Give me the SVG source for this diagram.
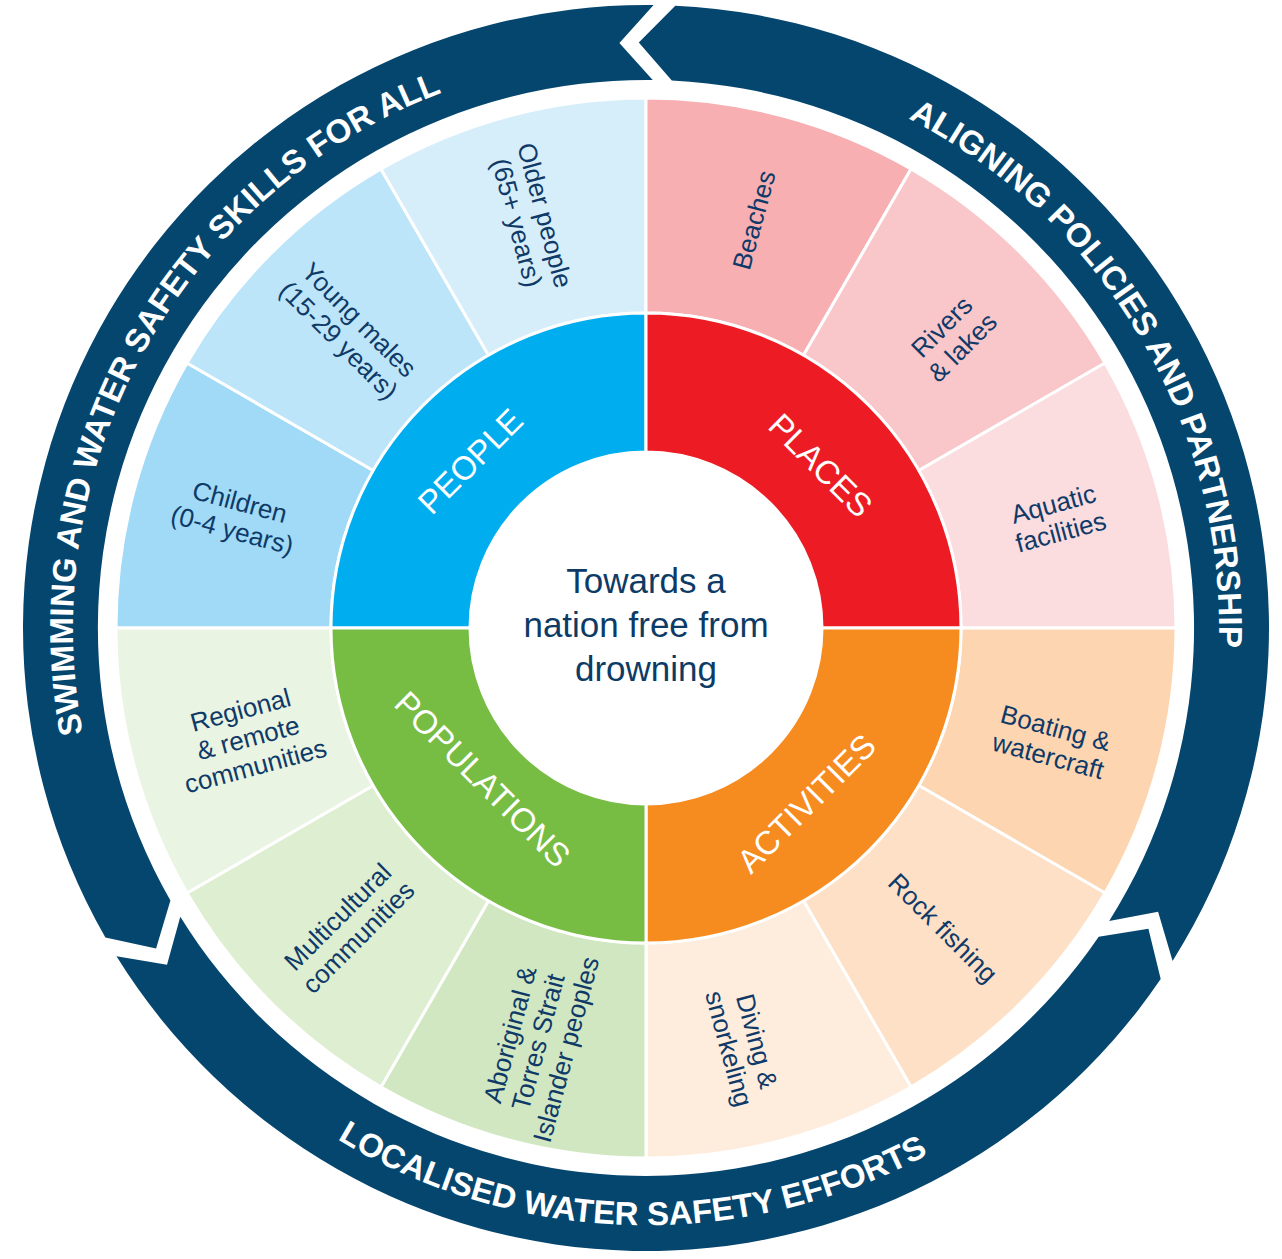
<svg xmlns="http://www.w3.org/2000/svg" xmlns:xlink="http://www.w3.org/1999/xlink" width="1282" height="1259" viewBox="0 0 1282 1259">
<style>
.seg{stroke:#fff;stroke-width:3}
.lbl{font-family:"Liberation Sans",Arial,sans-serif;font-size:26px;fill:#0f3a68;text-anchor:middle}
.mid{font-family:"Liberation Sans",Arial,sans-serif;font-size:33px;fill:#fff;text-anchor:middle}
.ring{fill:#05466e}
.rtxt{font-family:"Liberation Sans",Arial,sans-serif;font-size:33px;font-weight:bold;fill:#fff}
.ctr{font-family:"Liberation Sans",Arial,sans-serif;font-size:35px;fill:#0d3b66;text-anchor:middle}
</style>
<defs>
<path id="pSwim" d="M 323.5 1101.6 A 573 573 0 0 1 881.3 105.5"/>
<path id="pAlign" d="M 400.2 110.4 A 573 573 0 0 1 977.9 1095.1"/>
<path id="pLocal" d="M 50.1 665.0 A 597 597 0 0 0 1239.2 695.1"/>
</defs>
<rect width="1282" height="1259" fill="#fff"/>

<g id="connectors">
<path id="arrow-swimming" class="ring" d="M 105.4 937.6 A 623 623 0 0 1 653.6 5.0 L 619.4 43.1 L 652.7 80.0 A 548 548 0 0 0 170.4 900.4 L 156.1 948.6 Z"/>
<path id="arrow-aligning" class="ring" d="M 675.3 5.7 A 623 623 0 0 1 1172.6 960.9 L 1158.1 911.8 L 1109.2 920.9 A 548 548 0 0 0 671.8 80.6 L 638.8 42.5 Z"/>
<path id="arrow-localised" class="ring" d="M 1160.7 979.1 A 623 623 0 0 1 116.5 956.3 L 167.0 964.7 L 180.3 916.8 A 548 548 0 0 0 1098.7 936.8 L 1148.4 928.7 Z"/>
<text class="rtxt"><textPath xlink:href="#pSwim" href="#pSwim" startOffset="50%" text-anchor="middle">SWIMMING AND WATER SAFETY SKILLS FOR ALL</textPath></text>
<text class="rtxt"><textPath xlink:href="#pAlign" href="#pAlign" startOffset="50%" text-anchor="middle">ALIGNING POLICIES AND PARTNERSHIP</textPath></text>
<text class="rtxt"><textPath xlink:href="#pLocal" href="#pLocal" startOffset="50%" text-anchor="middle">LOCALISED WATER SAFETY EFFORTS</textPath></text>
</g>

<!-- outer segments -->
<g id="children">
<path class="seg" fill="#a0daf7" d="M 331 628 L 116 628 A 530 530 0 0 1 187.0 363 L 373.2 470.5 A 315 315 0 0 0 331 628 Z"/>
<g transform="translate(236,516) rotate(15)"><text class="lbl" y="-5.5">Children</text><text class="lbl" y="23.5">(0-4 years)</text></g>
</g>
<g id="young-males">
<path class="seg" fill="#bde5f9" d="M 373.2 470.5 L 187.0 363 A 530 530 0 0 1 381 169.0 L 488.5 355.2 A 315 315 0 0 0 373.2 470.5 Z"/>
<g transform="translate(349,330) rotate(45)"><text class="lbl" y="-5.5">Young males</text><text class="lbl" y="23.5">(15-29 years)</text></g>
</g>
<g id="older-people">
<path class="seg" fill="#d6eefa" d="M 488.5 355.2 L 381 169.0 A 530 530 0 0 1 646 98 L 646 313 A 315 315 0 0 0 488.5 355.2 Z"/>
<g transform="translate(531,219) rotate(75)"><text class="lbl" y="-5.5">Older people</text><text class="lbl" y="23.5">(65+ years)</text></g>
</g>
<g id="beaches">
<path class="seg" fill="#f7afb2" d="M 646 313 L 646 98 A 530 530 0 0 1 911 169.0 L 803.5 355.2 A 315 315 0 0 0 646 313 Z"/>
<g transform="translate(754,220) rotate(-75)"><text class="lbl" y="9">Beaches</text></g>
</g>
<g id="rivers-lakes">
<path class="seg" fill="#f9c6c9" d="M 803.5 355.2 L 911 169.0 A 530 530 0 0 1 1105.0 363 L 918.8 470.5 A 315 315 0 0 0 803.5 355.2 Z"/>
<g transform="translate(952,337) rotate(-45)"><text class="lbl" y="-5.5">Rivers</text><text class="lbl" y="23.5">&amp; lakes</text></g>
</g>
<g id="aquatic-facilities">
<path class="seg" fill="#fbdcdf" d="M 918.8 470.5 L 1105.0 363 A 530 530 0 0 1 1176 628 L 961 628 A 315 315 0 0 0 918.8 470.5 Z"/>
<g transform="translate(1057,518) rotate(-15)"><text class="lbl" y="-5.5">Aquatic</text><text class="lbl" y="23.5">facilities</text></g>
</g>
<g id="boating">
<path class="seg" fill="#fdd6b1" d="M 961 628 L 1176 628 A 530 530 0 0 1 1105.0 893.0 L 918.8 785.5 A 315 315 0 0 0 961 628 Z"/>
<g transform="translate(1052,742) rotate(15)"><text class="lbl" y="-5.5">Boating &amp;</text><text class="lbl" y="23.5">watercraft</text></g>
</g>
<g id="rock-fishing">
<path class="seg" fill="#fde0c6" d="M 918.8 785.5 L 1105.0 893.0 A 530 530 0 0 1 911 1087.0 L 803.5 900.8 A 315 315 0 0 0 918.8 785.5 Z"/>
<g transform="translate(943,928) rotate(45)"><text class="lbl" y="9">Rock fishing</text></g>
</g>
<g id="diving">
<path class="seg" fill="#feecdc" d="M 803.5 900.8 L 911 1087.0 A 530 530 0 0 1 646 1158 L 646 943 A 315 315 0 0 0 803.5 900.8 Z"/>
<g transform="translate(743,1045) rotate(75)"><text class="lbl" y="-5.5">Diving &amp;</text><text class="lbl" y="23.5">snorkeling</text></g>
</g>
<g id="aboriginal">
<path class="seg" fill="#d0e7c1" d="M 646 943 L 646 1158 A 530 530 0 0 1 381 1087.0 L 488.5 900.8 A 315 315 0 0 0 646 943 Z"/>
<g transform="translate(538,1042) rotate(-75)"><text class="lbl" y="-20">Aboriginal &amp;</text><text class="lbl" y="9">Torres Strait</text><text class="lbl" y="38">Islander peoples</text></g>
</g>
<g id="multicultural">
<path class="seg" fill="#ddeed1" d="M 488.5 900.8 L 381 1087.0 A 530 530 0 0 1 187.0 893 L 373.2 785.5 A 315 315 0 0 0 488.5 900.8 Z"/>
<g transform="translate(348,927) rotate(-45)"><text class="lbl" y="-5.5">Multicultural</text><text class="lbl" y="23.5">communities</text></g>
</g>
<g id="regional">
<path class="seg" fill="#eaf4e2" d="M 373.2 785.5 L 187.0 893 A 530 530 0 0 1 116 628 L 331 628 A 315 315 0 0 0 373.2 785.5 Z"/>
<g transform="translate(248,738) rotate(-15)"><text class="lbl" y="-20">Regional</text><text class="lbl" y="9">&amp; remote</text><text class="lbl" y="38">communities</text></g>
</g>

<!-- middle ring -->
<g id="people">
<path class="seg" fill="#00aeef" d="M 470 628 L 331 628 A 315 315 0 0 1 646 313 L 646 452 A 176 176 0 0 0 470 628 Z"/>
<text class="mid" transform="translate(470,461) rotate(-45)" y="12">PEOPLE</text>
</g>
<g id="places">
<path class="seg" fill="#ed1c24" d="M 646 452 L 646 313 A 315 315 0 0 1 961 628 L 822 628 A 176 176 0 0 0 646 452 Z"/>
<text class="mid" transform="translate(821,465) rotate(45)" y="12">PLACES</text>
</g>
<g id="activities">
<path class="seg" fill="#f68b1f" d="M 822 628 L 961 628 A 315 315 0 0 1 646 943 L 646 804 A 176 176 0 0 0 822 628 Z"/>
<text class="mid" transform="translate(806,803) rotate(-45)" y="12">ACTIVITIES</text>
</g>
<g id="populations">
<path class="seg" fill="#77bc43" d="M 646 804 L 646 943 A 315 315 0 0 1 331 628 L 470 628 A 176 176 0 0 0 646 804 Z"/>
<text class="mid" transform="translate(483,779) rotate(45)" y="12">POPULATIONS</text>
</g>

<g id="centre">
<circle cx="646" cy="628" r="174.5" fill="#fff"/>
<text class="ctr" x="646" y="593">Towards a</text>
<text class="ctr" x="646" y="637">nation free from</text>
<text class="ctr" x="646" y="681">drowning</text>
</g>
</svg>
